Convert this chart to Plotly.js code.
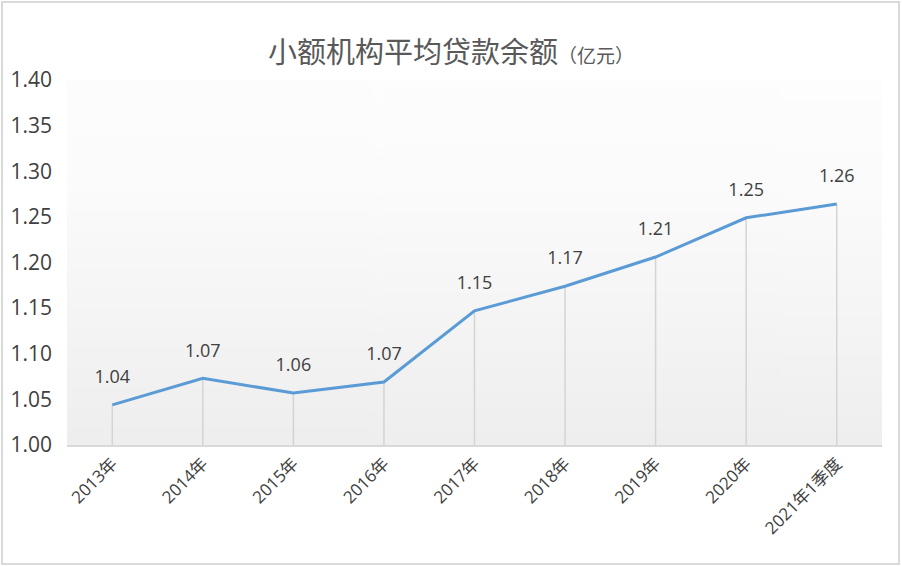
<!DOCTYPE html>
<html>
<head>
<meta charset="utf-8">
<script src="https://cdn.plot.ly/plotly-3.0.1.min.js"></script>
<style>
  html, body { margin: 0; padding: 0; background: #fff; }
  #wrap { position: relative; width: 902px; height: 566px; }
  #chart { position: absolute; left: 0; top: 0; width: 902px; height: 566px; }
  #frame { position: absolute; left: 1px; top: 1px; width: 899px; height: 564px;
           border: 2px solid #d9d9d9; box-sizing: border-box; pointer-events: none; }
</style>
</head>
<body>
<div id="wrap"><div id="chart"></div><div id="frame"></div></div>
<script>
const categories = ['2013年', '2014年', '2015年', '2016年', '2017年', '2018年', '2019年', '2020年', '2021年1季度'];
const loanBalance = [1.044, 1.073, 1.057, 1.069, 1.147, 1.174, 1.206, 1.249, 1.264];
const valueLabels = ['1.04', '1.07', '1.06', '1.07', '1.15', '1.17', '1.21', '1.25', '1.26'];
const yTickValues = [1.00, 1.05, 1.10, 1.15, 1.20, 1.25, 1.30, 1.35, 1.40];
const yTickLabels = ['1.00', '1.05', '1.10', '1.15', '1.20', '1.25', '1.30', '1.35', '1.40'];
const yBase = 1.00;

// vertical gradient for the plot area background
const cv = document.createElement('canvas');
cv.width = 4; cv.height = 256;
const ctx = cv.getContext('2d');
const g = ctx.createLinearGradient(0, 0, 0, 256);
g.addColorStop(0, '#fdfdfd');
g.addColorStop(0.3, '#fbfbfb');
g.addColorStop(1, '#eeeeee');
ctx.fillStyle = g;
ctx.fillRect(0, 0, 4, 256);
const bgImg = cv.toDataURL('image/png');

const FONT = '"Open Sans", "Noto Sans CJK SC", sans-serif';

const trace = {
  type: 'scatter',
  mode: 'lines+markers+text',
  x: categories,
  y: loanBalance,
  text: valueLabels,
  textposition: 'top center',
  textfont: { family: FONT, size: 18, color: '#404040' },
  line: { color: '#5b9bd5', width: 3 },
  marker: { size: 26, color: 'rgba(0,0,0,0)' },
  error_y: {
    type: 'data', symmetric: false,
    array: loanBalance.map(() => 0),
    arrayminus: loanBalance.map(v => v - yBase),
    width: 0, thickness: 1.5, color: '#d4d4d4'
  },
  hoverinfo: 'x+y',
  cliponaxis: false
};

const layout = {
  width: 902, height: 566,
  margin: { l: 67, r: 20, t: 80, b: 121 },
  paper_bgcolor: '#ffffff',
  plot_bgcolor: 'rgba(0,0,0,0)',
  showlegend: false,
  title: {
    text: '小额机构平均贷款余额<span style="font-size:19px">（亿元）</span>',
    font: { family: FONT, size: 29, color: '#595959' },
    x: 0.5, xanchor: 'center', xref: 'container',
    y: 1 - 53 / 566, yref: 'container', yanchor: 'middle'
  },
  xaxis: {
    type: 'category',
    range: [-0.5, categories.length - 0.5],
    showgrid: false, zeroline: false,
    showline: true, linecolor: '#d9d9d9', linewidth: 2,
    ticks: '', tickangle: -45,
    tickfont: { family: FONT, size: 17, color: '#404040' },
    fixedrange: true
  },
  yaxis: {
    range: [1.00, 1.40],
    tickvals: yTickValues, ticktext: yTickLabels,
    showgrid: false, zeroline: false, showline: false,
    ticks: '', ticklabelstandoff: 14,
    tickfont: { family: FONT, size: 21, color: '#404040' },
    fixedrange: true
  },
  images: [{
    source: bgImg, xref: 'paper', yref: 'paper',
    x: 0, y: 1, sizex: 1, sizey: 1, sizing: 'stretch', layer: 'below'
  }]
};

Plotly.newPlot('chart', [trace], layout, { displayModeBar: false, staticPlot: true });
</script>
</body>
</html>
